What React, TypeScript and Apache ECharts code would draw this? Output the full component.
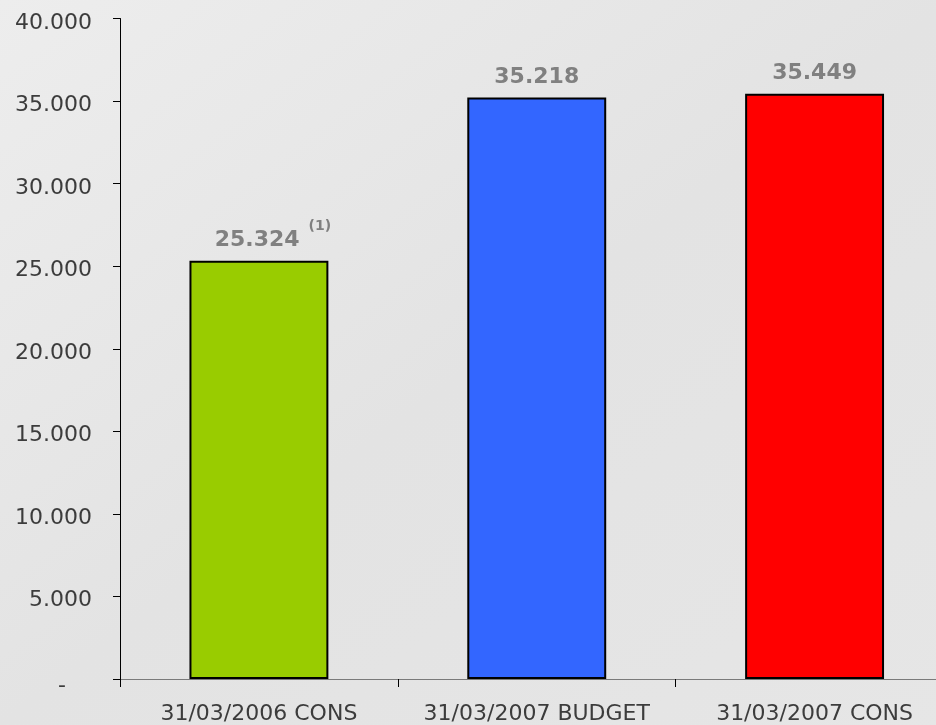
import React, { useEffect, useRef } from "react";
import * as echarts from "echarts";

const categories = ["31/03/2006 CONS", "31/03/2007 BUDGET", "31/03/2007 CONS"];
const values = [25324, 35218, 35449];
const barColors = ["#99CC00", "#3366FF", "#FF0000"];
const valueLabels = ["25.324", "35.218", "35.449"];
const footnotes = ["(1)", "", ""];
const yMax = 40000;
const yStep = 5000;

const FONT = "DejaVu Sans";

function formatTick(v: number): string {
  if (v === 0) return "{d|-}";
  const s = String(Math.round(v));
  return s.replace(/\B(?=(\d{3})+(?!\d))/g, ".");
}

export default function App() {
  const ref = useRef<HTMLDivElement>(null);

  useEffect(() => {
    if (!ref.current) return;
    const chart = echarts.init(ref.current, undefined, { renderer: "svg" });

    const valueStyle = {
      fontFamily: FONT,
      fontSize: 22,
      fontWeight: "bold" as const,
      color: "#808080",
    };

    const data = values.map((v, i) => {
      const note = footnotes[i];
      const item: any = {
        value: v,
        itemStyle: { color: barColors[i] },
      };
      if (note) {
        item.label = {
          formatter: "{v|" + valueLabels[i] + "}{s|" + note + "}",
          offset: [14, 0],
          rich: {
            v: { ...valueStyle, padding: [10, 0, 0, 0], verticalAlign: "bottom" },
            s: {
              fontFamily: FONT,
              fontSize: 14,
              fontWeight: "bold",
              color: "#808080",
              verticalAlign: "top",
              padding: [0, 0, 0, 9],
            },
          },
        };
      } else {
        item.label = { formatter: valueLabels[i] };
      }
      return item;
    });

    chart.setOption({
      animation: false,
      graphic: [
        {
          type: "rect",
          z: -100,
          silent: true,
          shape: { x: 0, y: 0, width: 954, height: 725 },
          style: {
            fill: new echarts.graphic.LinearGradient(0, 0, 1, 1, [
              { offset: 0, color: "#ededed" },
              { offset: 0.5, color: "#e3e3e3" },
              { offset: 1, color: "#e6e6e6" },
            ]),
          },
        },
      ],
      grid: { left: 120, right: 0.5, top: 18.5, bottom: 46, containLabel: false },
      xAxis: {
        type: "category",
        data: categories,
        axisLine: { show: true, lineStyle: { color: "#7a7a7a", width: 1 } },
        axisTick: { show: true, length: 8, lineStyle: { color: "#000" }, alignWithLabel: false },
        axisLabel: { fontFamily: FONT, fontSize: 22, color: "#3c3c3c", margin: 22, interval: 0 },
        splitLine: { show: false },
      },
      yAxis: {
        type: "value",
        min: 0,
        max: yMax,
        interval: yStep,
        axisLine: { show: true, lineStyle: { color: "#000", width: 1 } },
        axisTick: { show: true, length: 7, lineStyle: { color: "#000" } },
        splitLine: { show: false },
        axisLabel: {
          fontFamily: FONT,
          fontSize: 22,
          color: "#3c3c3c",
          margin: 28,
          padding: [5, 0, 0, 0],
          formatter: formatTick,
          rich: { d: { fontFamily: FONT, fontSize: 22, color: "#3c3c3c", padding: [5, 26, 0, 0] } },
        },
      },
      series: [
        {
          type: "bar",
          data,
          barWidth: "50%",
          itemStyle: { borderColor: "#000", borderWidth: 2 },
          label: {
            show: true,
            position: "top",
            distance: 11,
            ...valueStyle,
          },
        },
      ],
    });

    return () => chart.dispose();
  }, []);

  return (
    <div style={{ position: "fixed", left: 0, top: 0, width: 936, height: 725, overflow: "hidden" }}>
      <div ref={ref} style={{ width: 954, height: 725 }} />
    </div>
  );
}
